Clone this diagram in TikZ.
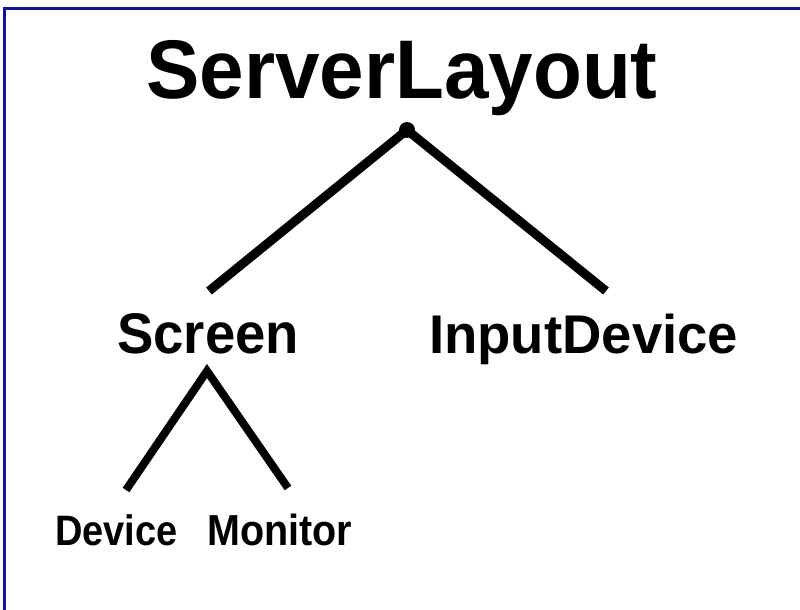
\documentclass[tikz,border=0pt]{standalone}
\usepackage{fontspec}
\setmainfont{Liberation Sans}
\definecolor{frameblue}{HTML}{12129A}
\begin{document}
\begin{tikzpicture}[x=1pt,y=-1pt,
  lbl/.style={inner sep=0pt,anchor=base west,font=\bfseries},
  edge/.style={line width=9pt,line cap=butt,line join=miter}]
\useasboundingbox (0,0) rectangle (800,610);
\fill[white] (0,0) rectangle (800,610);
\draw[frameblue,line width=3pt] (4.5,612) -- (4.5,8.5) -- (802,8.5);
% labels
\node[lbl,anchor=base,font=\bfseries\fontsize{80}{80}\selectfont,yscale=1.04,transform shape] (sl) at (402,98) {ServerLayout};
\node[lbl,font=\bfseries\fontsize{54.5}{54.5}\selectfont,yscale=1.05,transform shape] (scr) at (117,353) {Screen};
\node[lbl,font=\bfseries\fontsize{54.5}{54.5}\selectfont] (inp) at (429,353) {InputDevice};
\node[lbl,font=\bfseries\fontsize{38}{38}\selectfont,yscale=1.12,transform shape] (dev) at (55,545) {Device};
\node[lbl,font=\bfseries\fontsize{39.5}{39.5}\selectfont,yscale=1.1,transform shape] (mon) at (207,545) {Monitor};
% connector points
\coordinate (top) at (407,130);
\coordinate (l1) at (209,291);
\coordinate (r1) at (606,291);
\coordinate (sub) at (207,371);
\coordinate (l2) at (126,490);
\coordinate (r2) at (288,488);
\draw[edge] (l1) -- (top) -- (r1);
\fill (top) circle (8);
\draw[edge,line width=8pt] (l2) -- (sub) -- (r2);
\end{tikzpicture}
\end{document}
